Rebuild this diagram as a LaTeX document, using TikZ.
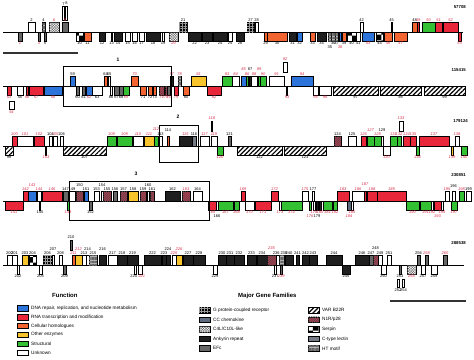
\documentclass[tikz,border=0pt]{standalone}
\usepackage{fontspec}
\setmainfont{Liberation Sans}
\usetikzlibrary{patterns, patterns.meta}
\definecolor{dnac}{HTML}{2C74DA}
\definecolor{rnac}{HTML}{E8283A}
\definecolor{celc}{HTML}{F26430}
\definecolor{othc}{HTML}{F7C52B}
\definecolor{strc}{HTML}{33C133}
\definecolor{nr}{HTML}{D7304C}
\definecolor{nirc}{HTML}{B5384C}
\definecolor{cccc}{HTML}{5E6B7E}
\definecolor{ctlc}{HTML}{767C86}

\def\ry{0}
% gene above the line: [label raise] x1 x2 style label labelstyle
\newcommand{\gu}[6][0]{%
  \draw[gbox,#4] (#2,\ry) rectangle (#3,\ry-10);
  \node[lab,#6,anchor=south] (g#5) at ({(#2+#3)/2},{\ry-10.4-#1}) {#5};}
% gene below the line
\newcommand{\gd}[6][0]{%
  \draw[gbox,#4] (#2,\ry) rectangle (#3,\ry+9);
  \node[lab,#6,anchor=north] (g#5) at ({(#2+#3)/2},{\ry+9.4+#1}) {#5};}
\newcommand{\legitem}[5]{%
  \draw[gbox,#3] (#1,#2-2.8) rectangle (#1+11,#2+2.8);
  \node[legtext,anchor=west] (#5) at (#1+14,#2) {#4};}

\begin{document}
\begin{tikzpicture}[x=1pt, y=-1pt,
    lab/.style={font=\fontsize{4}{4.5}\selectfont, inner sep=0.3pt},
    bk/.style={},
    rd/.style={text=nr, font=\fontsize{4}{4.5}\selectfont\itshape},
    rowlab/.style={font=\fontsize{4.3}{5}\selectfont\bfseries, anchor=east, inner sep=0pt},
    legtext/.style={font=\fontsize{4.7}{5.5}\selectfont, inner sep=0pt},
    legtitle/.style={font=\fontsize{6}{7}\selectfont\bfseries, anchor=west, inner sep=0pt},
    axis/.style={line width=0.6pt},
    frame/.style={line width=0.8pt},
    scalebar/.style={line width=1.8pt, black!80},
    gbox/.style={draw=black, line width=0.35pt},
    unk/.style={fill=white},
    dna/.style={fill=dnac},
    rna/.style={fill=rnac},
    cel/.style={fill=celc},
    oth/.style={fill=othc},
    str/.style={fill=strc},
    gpr/.style={fill=black, postaction={pattern={Hatch[angle=0,distance=2.8pt,line width=0.3pt]}, pattern color=black!40}},
    ccc/.style={fill=cccc},
    c4l/.style={fill=white, postaction={pattern={Hatch[angle=45,distance=1.8pt,line width=0.35pt]}, pattern color=black!60}},
    ank/.style={fill=black!88},
    efc/.style={fill=black!60},
    var/.style={fill=white, postaction={pattern={Lines[angle=45,distance=3.2pt,line width=1.2pt]}}},
    nir/.style={fill=nirc, postaction={pattern={Lines[angle=45,distance=1.6pt,line width=0.5pt]}, pattern color=black!70}},
    spn/.style={fill=white, postaction={pattern=checkerboard}},
    ctl/.style={fill=ctlc},
    htm/.style={fill=black!30, postaction={pattern={Lines[angle=0,distance=1.4pt,line width=0.35pt]}, pattern color=black!60}}]
  \useasboundingbox (0,0) rectangle (474,359);

  % row 1
  \def\ry{32}
  \draw[axis] (3,\ry) -- (463,\ry);
  \node[rowlab] (r1) at (466,7) {57708};
  \gd{18}{22}{efc}{1}{rd}
  \gu{28}{35}{unk}{2}{bk}
  \gd{38}{40}{efc}{3}{rd}
  \gu{42}{45}{htm}{4}{bk}
  \gd{44}{46}{efc}{5}{bk}
  \gu{49}{59}{c4l}{6}{rd}
  \draw[gbox,unk] (62.5,20) rectangle (64.5,6);
  \draw[gbox,unk] (65.5,20) rectangle (67.5,6);
  \node[lab,anchor=south] (g7) at (63.5,5.5) {7};
  \node[lab,anchor=south] (g8) at (66.5,5.5) {8};
  \gu{62}{68}{efc}{9}{rd}
  \gd{76}{83}{spn}{10}{bk}
  \gd{84}{91}{cel}{11}{bk}
  \gd{99}{105}{ank}{12}{bk}
  \gd{111}{112}{ank}{13}{bk}
  \gd{114}{122}{ank}{14}{bk}
  \gd{125}{130}{unk}{15}{bk}
  \gd{132}{137}{unk}{16}{bk}
  \gd{139}{144}{unk}{17}{bk}
  \gd{146}{160}{ank}{18}{bk}
  \gd{162}{164}{unk}{19}{bk}
  \gd{169}{178}{c4l}{20}{rd}
  \gu{179}{187}{gpr}{21}{bk}
  \gd{188}{201}{ank}{22}{bk}
  \gd{202}{212}{ank}{23}{bk}
  \gd{213}{227}{ank}{24}{bk}
  \gd{228}{232}{unk}{25}{bk}
  \gd{236}{244}{ank}{26}{bk}
  \gu{247}{254}{gpr}{27}{bk}
  \gu{255}{258}{unk}{28}{bk}
  \gd{264}{267}{cel}{29}{bk}
  \gd{267}{287}{cel}{30}{bk}
  \gd{289}{296}{ank}{31}{bk}
  \gd{297}{302}{dna}{32}{bk}
  \gd{310}{315}{cel}{33}{bk}
  \gd{317}{326}{ank}{34}{bk}
  \gd[3.5]{328}{331.5}{htm}{35}{bk}
  \gd{331.5}{335}{htm}{36}{bk}
  \gd{335}{338}{htm}{37}{bk}
  \gd[3.5]{339}{341}{dna}{38}{rd}
  \gd{342}{346}{cel}{39}{bk}
  \gd{347}{356}{spn}{40}{bk}
  \gd{356}{360}{unk}{41}{bk}
  \gu{360}{363}{unk}{42}{bk}
  \gd{362}{374}{dna}{43}{rd}
  \gd{376}{383}{spn}{44}{bk}
  \gu{391}{392}{efc}{45}{bk}
  \gd{384}{392}{cel}{46}{rd}
  \gd{394}{407}{cel}{47}{rd}
  \gu{412}{417}{cel}{48}{bk}
  \gu{417}{419}{rna}{49}{rd}
  \gu{422}{435}{str}{50}{rd}
  \gu{435}{442}{rna}{51}{rd}
  \gu{443}{458}{rna}{52}{rd}
  \gd{458}{461}{rna}{53}{rd}
  \draw[scalebar] (3,53) -- (78,53);

  % row 2
  \def\ry{86}
  \draw[axis] (3,\ry) -- (465,\ry);
  \node[rowlab] (r2) at (466,70) {115415};
  \gd{7}{11}{rna}{53}{rd}
  \draw[gbox,unk] (9,101) rectangle (14,109);
  \node[lab,rd,anchor=north] (g54) at (11.5,110) {54};
  \gd{17}{23}{unk}{55}{bk}
  \gd{26}{28}{rna}{56}{rd}
  \gd{29}{43}{rna}{57}{rd}
  \gd{44}{62}{dna}{58}{rd}
  \gu{70}{75}{dna}{59}{bk}
  \gd{76}{79}{efc}{60}{bk}
  \gd{82}{85}{efc}{61}{bk}
  \gd{86}{92}{dna}{62}{rd}
  \gd{92}{102}{unk}{63}{bk}
  \gu{104}{107}{cel}{64}{bk}
  \gu{108}{110}{unk}{65}{bk}
  \gd{110}{112}{unk}{66}{bk}
  \gd{114}{119}{efc}{67}{bk}
  \gd{119}{123}{efc}{68}{bk}
  \gd{123}{129}{str}{69}{rd}
  \gu{131}{138}{cel}{70}{rd}
  \gd{140}{146}{cel}{71}{bk}
  \gd{148}{152}{cel}{72}{bk}
  \gd{153}{156}{cel}{73}{bk}
  \gd{159}{164}{nir}{74}{rd}
  \gd{165}{167}{nir}{75}{rd}
  \gd{167}{170}{efc}{76}{rd}
  \gu{170}{173}{ank}{77}{rd}
  \gu{178}{181}{htm}{78}{rd}
  \gd{174}{178}{rna}{79}{rd}
  \gd{183}{189}{cel}{80}{bk}
  \gu{191}{206}{oth}{81}{rd}
  \gd{207}{221}{rna}{82}{rd}
  \gu{222}{232}{str}{83}{rd}
  \gu{232}{239}{unk}{84}{rd}
  \gu[5]{241}{246}{dna}{85}{rd}
  \gu{246}{248}{str}{86}{rd}
  \gu[5]{249}{251}{ank}{87}{bk}
  \gu{251}{257}{unk}{88}{rd}
  \gu[5]{258}{260}{str}{89}{rd}
  \gu{260}{266}{str}{90}{rd}
  \gu{269}{284}{unk}{91}{rd}
  \draw[gbox,unk] (283,72) rectangle (287,62);
  \node[lab,rd,anchor=south] (g92) at (285,61.5) {92};
  \gd{286.5}{287.5}{efc}{93}{rd}
  \gu{291}{313}{dna}{94}{rd}
  \gd{313}{318}{unk}{95}{rd}
  \gd{319}{331}{unk}{96}{rd}
  \gd{333}{378}{var}{97}{bk}
  \gd{380}{421}{var}{98}{bk}
  \gd{424}{465}{var}{99}{bk}
  \draw[frame] (63,66) rectangle (171,106);
  \node[lab,font=\fontsize{5}{6}\selectfont\bfseries] (f1) at (118,60) {1};

  % row 3
  \def\ry{146}
  \draw[axis] (3,\ry) -- (467,\ry);
  \node[rowlab] (r3) at (468,121) {179124};
  \gd{5}{13}{var}{99}{bk}
  \gu{12}{17}{rna}{100}{rd}
  \gu{17}{33}{unk}{101}{rd}
  \gu{34}{44}{rna}{102}{rd}
  \gd{45.5}{46.5}{efc}{103}{rd}
  \gu{49}{52}{unk}{104}{bk}
  \gu{53}{57}{unk}{105}{rd}
  \gu{60}{63}{unk}{106}{bk}
  \gd{63}{106}{var}{107}{bk}
  \gu{107}{116}{str}{108}{rd}
  \gu{117}{132}{str}{109}{rd}
  \gu{133}{143}{unk}{110}{rd}
  \gu{144}{154}{oth}{111}{rd}
  \gu[5]{154}{158}{str}{112}{rd}
  \gu{159}{162}{unk}{113}{bk}
  \gu[4]{167}{169}{cel}{114}{bk}
  \gu{179}{192}{ank}{115}{rd}
  \gu{192}{196}{ctl}{116}{bk}
  \gu{200}{209}{unk}{117}{rd}
  \draw[gbox,rna] (211,131) rectangle (212.5,121);
  \node[lab,rd,anchor=south] (g118) at (211.8,120.5) {118};
  \gu{211}{217}{unk}{119}{rd}
  \gd{217}{223}{str}{120}{rd}
  \gu{228}{231}{efc}{121}{bk}
  \gd{237}{282}{var}{122}{bk}
  \gd{284}{326}{var}{123}{bk}
  \gu{334}{341}{nir}{124}{bk}
  \gu{348}{356}{unk}{125}{bk}
  \gu{361}{366}{rna}{126}{rd}
  \gu[4]{367}{374}{str}{127}{rd}
  \gu{374}{381}{str}{128}{rd}
  \gu[4]{381}{383}{unk}{129}{bk}
  \gd{383}{390}{unk}{130}{rd}
  \gu{390}{397}{str}{131}{rd}
  \gu{397}{401}{str}{132}{rd}
  \draw[gbox,unk] (399,131) rectangle (403,121);
  \node[lab,rd,anchor=south] (g133) at (401,120.5) {133};
  \gu{403}{410}{rna}{134}{rd}
  \gu{410}{416}{rna}{135}{rd}
  \gd{416}{419}{str}{136}{rd}
  \gu{419}{449}{rna}{137}{rd}
  \gu{455}{459}{unk}{138}{rd}
  \gd{451}{453}{oth}{139}{rd}
  \gd{461}{467}{str}{140}{rd}
  \draw[frame] (159,125) rectangle (198,162);
  \node[lab,font=\fontsize{5}{6}\selectfont\bfseries] (f2) at (178,117) {2};

  % row 4
  \def\ry{201}
  \draw[axis] (3,\ry) -- (471,\ry);
  \node[rowlab] (r4) at (466,175) {230851};
  \gd{5}{23}{rna}{141}{rd}
  \gu{23}{28}{rna}{142}{rd}
  \gu[4]{28}{36}{dna}{143}{rd}
  \gu{37}{41}{unk}{144}{rd}
  \gd{39.5}{40.5}{efc}{145}{bk}
  \gu{42}{62}{rna}{146}{rd}
  \gu{63}{68}{efc}{147}{bk}
  \gd{67}{69}{str}{148}{rd}
  \gu{69}{75}{unk}{149}{bk}
  \gu[4]{76}{83}{nir}{150}{bk}
  \gu{84}{88}{dna}{151}{bk}
  \gd{89}{92}{efc}{152}{bk}
  \gu{94}{99}{unk}{153}{bk}
  \gu[4]{101}{103}{unk}{154}{bk}
  \gu{103}{111}{nir}{155}{bk}
  \gu{113}{117}{efc}{156}{bk}
  \gu{120}{127}{nir}{157}{bk}
  \gu{128}{138}{oth}{158}{bk}
  \gu{140}{146}{nir}{159}{bk}
  \gu[4]{147}{149}{unk}{160}{bk}
  \gu{150}{154}{nir}{161}{bk}
  \gu{165}{180}{ank}{162}{bk}
  \gu{182}{190}{nir}{163}{rd}
  \gu{193}{202}{unk}{164}{bk}
  \gd{208}{216}{rna}{165}{rd}
  \gd[4]{216}{218}{unk}{166}{bk}
  \gd{218}{233}{str}{167}{rd}
  \gd{234}{239}{str}{168}{rd}
  \gu{241}{245}{rna}{169}{rd}
  \gd{245}{254}{unk}{170}{rd}
  \gd{255}{271}{rna}{171}{rd}
  \gu{271}{278}{rna}{172}{rd}
  \gd{279}{281}{unk}{173}{rd}
  \gd{281}{302}{str}{174}{rd}
  \gu{302}{308}{unk}{175}{rd}
  \gd[4]{309}{311}{str}{176}{rd}
  \gu{312}{314}{unk}{177}{bk}
  \gd{313}{315}{unk}{178}{rd}
  \gd[4]{316}{318}{ank}{179}{bk}
  \gd{319}{321}{ank}{180}{rd}
  \gd{323}{332}{str}{181}{rd}
  \gd{333}{337}{str}{182}{rd}
  \gu{337}{349}{rna}{183}{rd}
  \gd[4]{347}{351}{ccc}{184}{rd}
  \gd{351}{353}{unk}{185}{rd}
  \gu{352}{364}{unk}{186}{rd}
  \gu[5]{364}{366}{rna}{187}{rd}
  \gu{367}{377}{rna}{188}{rd}
  \gu{377}{406}{rna}{189}{rd}
  \gd{406}{419}{str}{190}{rd}
  \gd{420}{431}{str}{191}{rd}
  \gd{431}{433}{unk}{192}{rd}
  \gd[4]{434}{441}{rna}{193}{rd}
  \gd{441}{443}{unk}{194}{rd}
  \gu{445}{449}{unk}{195}{rd}
  \gu[3]{452}{455}{unk}{196}{bk}
  \gd{451}{457}{str}{197}{rd}
  \gu{459}{464}{str}{198}{rd}
  \gu{466}{471}{unk}{199}{bk}
  \draw[frame] (69,181) rectangle (209,220);
  \node[lab,font=\fontsize{5}{6}\selectfont\bfseries] (f3) at (136,174) {3};

  % row 5
  \def\ry{265}
  \draw[axis] (3,\ry) -- (464,\ry);
  \node[rowlab] (r5) at (466,243) {288538};
  \gu{7}{12}{unk}{200}{bk}
  \gu{12}{17}{unk}{201}{bk}
  \gd{17}{19}{unk}{202}{bk}
  \gu{22}{28}{oth}{203}{bk}
  \gu{29}{36}{spn}{204}{bk}
  \gd{39}{42}{unk}{205}{bk}
  \gu{43}{52}{gpr}{206}{bk}
  \gu[4]{52}{54}{unk}{207}{bk}
  \gu{59}{62}{unk}{208}{bk}
  \gd{63}{66}{efc}{209}{bk}
  \draw[gbox,efc] (70,250) rectangle (72,240);
  \node[lab,anchor=south] (g210) at (71,239.5) {210};
  \gu{72}{75}{cel}{211}{rd}
  \gu[4]{75}{82}{oth}{212}{rd}
  \gu{82}{86}{unk}{213}{bk}
  \gu[4]{86}{89}{unk}{214}{bk}
  \gu{89}{97}{htm}{215}{bk}
  \gu[4]{99}{106}{ank}{216}{bk}
  \gu{108}{117}{unk}{217}{bk}
  \gu{117}{127}{ank}{218}{bk}
  \gu{127}{138}{ank}{219}{bk}
  \draw[gbox,unk] (134.5,265) rectangle (136.5,274);
  \node[lab,anchor=north east] (g220) at (137.5,274.4) {220};
  \draw[gbox,unk] (138,265) rectangle (142,274);
  \node[lab,rd,anchor=north west] (g221) at (138,274.4) {221};
  \gu{144}{161}{ank}{222}{bk}
  \gu{162}{166}{ank}{223}{bk}
  \gu[4]{166}{170}{ank}{224}{bk}
  \gu{172}{176}{unk}{225}{rd}
  \gu[4]{176}{182}{oth}{226}{rd}
  \gu{183}{193}{ank}{227}{bk}
  \gu{193}{205}{ank}{228}{bk}
  \gd{213}{217}{unk}{229}{bk}
  \gu{218}{226}{ank}{230}{bk}
  \gu{226}{234}{ank}{231}{bk}
  \gu{234}{244}{ank}{232}{bk}
  \gu{247}{256}{ank}{233}{bk}
  \gu{257}{267}{ank}{234}{bk}
  \gu[5]{267}{276}{nir}{235}{rd}
  \draw[gbox,unk] (276,265) rectangle (279.5,255);
  \node[lab,anchor=south east] (g236) at (280,254.6) {236};
  \draw[gbox,htm] (279.5,265) rectangle (284,255);
  \node[lab,anchor=south west] (g238) at (280,254.6) {238};
  \gd{274}{276.5}{unk}{237}{bk}
  \gd{280}{282.5}{efc}{239}{rd}
  \gu{285}{293}{ank}{240}{bk}
  \gu{296}{299}{ank}{241}{bk}
  \gu{302}{309}{ank}{242}{bk}
  \gu{309}{317}{ank}{243}{bk}
  \gu{326}{342}{ank}{244}{bk}
  \gd{342}{350}{ank}{245}{bk}
  \gu{355}{369}{ank}{246}{bk}
  \gu{369}{373}{efc}{247}{bk}
  \gu[5]{373}{378}{nir}{248}{bk}
  \gu{378}{382}{unk}{249}{bk}
  \gd{381}{386}{unk}{250}{bk}
  \gu{387}{391}{unk}{251}{bk}
  \gd{399}{401}{efc}{253}{bk}
  \draw[gbox,unk] (397,279) rectangle (399,287);
  \node[lab,anchor=north] (g252) at (398,288) {252};
  \draw[gbox,unk] (402,279) rectangle (404,287);
  \node[lab,anchor=north] (g254) at (403.5,288) {254};
  \gd{407}{416}{c4l}{255}{rd}
  \gu{417}{420}{efc}{256}{bk}
  \gd{421}{425}{unk}{257}{bk}
  \gu{425}{428}{efc}{258}{rd}
  \gd{431}{437}{unk}{259}{bk}
  \gu{443}{447}{efc}{260}{rd}
  \draw[scalebar] (390,301) -- (466,301);

  % legend
  \node[legtitle] (tfun) at (52,295) {Function};
  \legitem{17}{308}{dna}{DNA repair, replication, and nucleotide metabolism}{l1}
  \legitem{17}{316.9}{rna}{RNA transcription and modification}{l2}
  \legitem{17}{325.8}{cel}{Cellular homologues}{l3}
  \legitem{17}{334.7}{oth}{Other enzymes}{l4}
  \legitem{17}{343.6}{str}{Structural}{l5}
  \legitem{17}{352.5}{unk}{Unknown}{l6}
  \node[legtitle] (tfam) at (238,296) {Major Gene Families};
  \legitem{199}{310}{gpr}{G protein-coupled receptor}{m1}
  \legitem{199}{319.6}{ccc}{CC chemokine}{m2}
  \legitem{199}{329.2}{c4l}{C4L/C10L-like}{m3}
  \legitem{199}{338.8}{ank}{Ankyrin repeat}{m4}
  \legitem{199}{348.4}{efc}{EFc}{m5}
  \legitem{308}{310}{var}{VAR B22R}{m6}
  \legitem{308}{319.6}{nir}{N1R/p28}{m7}
  \legitem{308}{329.2}{spn}{Serpin}{m8}
  \legitem{308}{338.8}{ctl}{C-type lectin}{m9}
  \legitem{308}{348.4}{htm}{HT motif}{m10}
\end{tikzpicture}
\end{document}
